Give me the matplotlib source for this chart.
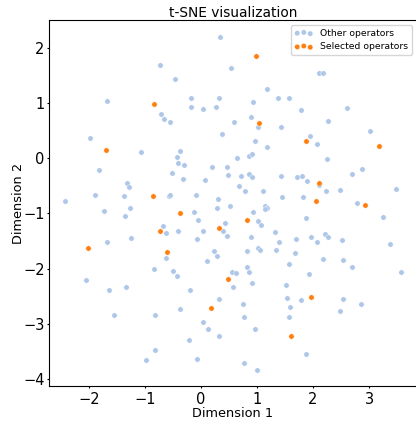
import numpy as np
import matplotlib
matplotlib.use("Agg")
import matplotlib.pyplot as plt

# t-SNE embedding, operators not chosen
other_x = [-1.98, -1.67, -0.73, -0.47, 0.345, -0.71, -0.66, -0.55, -0.17, -0.18,
           0.04, 0.26, 0.32, 0.38, 0.54, 2.11, 2.17, 1.17, 0.92, 1.37,
           1.58, 1.79, 2.61, 0.59, 0.89, 1.01, 1.43, 2.27, 3.02, 1.95,
           0.97,
           -1.08, -0.375, -0.43, -0.41, -0.31, -1.83, -0.52, -0.32, 0.19,
           0.46, 0.49, 0.08, -1.32, -1.29, -2.42, -1.89, -1.38, -0.58, -0.55,
           -0.095, 0.30, 0.29, 0.52, -1.73, -1.27, -1.36, -0.13, -0.06, -0.68,
           -0.63, -0.405, 0.03, 0.43, 0.39, 0.47, -0.08, -1.67, -1.25, -0.625,
           0.23, 0.28, 0.11,
           2.08, 1.17, 0.64, 0.85, 0.91, 2.255, 0.71, 0.86, 0.91, 1.42,
           1.72, 1.81, 1.89, 2.11, 2.70, 2.875, 3.49, 0.67, 0.79, 1.11,
           2.23, 2.49, 1.44, 1.82, 2.78, 1.14, 1.18, 1.14, 0.92, 3.25,
           1.875, 1.02, 1.08, 1.32, 2.21, 2.26, 1.96, 0.89, 1.70, 1.39,
           2.08, 2.51, 3.38, 1.02, 1.06, 0.82, 1.34, 1.68, 2.17, 2.54,
           1.58,
           -2.05, -0.84, -0.505, -0.43, -1.64, -1.34, -0.20, 0.32, -0.375, -1.55,
           -0.82, 0.03, 0.12, 0.33, -0.22, -0.83, -0.99, -0.08,
           0.82, 0.56, 0.63, 0.86, 2.70, 3.57, 1.93, 0.58, 0.905, 1.51,
           1.53, 1.78, 1.59, 2.54, 2.86, 2.48, 0.75, 0.76, 1.58, 0.96,
           1.87, 0.77, 1.00]
other_y = [0.36, 1.03, 1.69, 1.44, 2.20, 0.80, 0.71, 0.65, 1.09, 0.93,
           0.89, 0.93, 1.09, 0.44, 1.64, 1.54, 1.54, 1.25, 1.02, 1.10,
           1.09, 0.88, 0.92, 0.65, 0.75, 0.57, 0.56, 0.67, 0.50, 0.40,
           0.31,
           0.11, 0.13, 0.03, -0.08, -0.13, -0.21, -0.27, -0.375, -0.16,
           -0.15, -0.31, -0.39, -0.44, -0.52, -0.77, -0.67, -0.68, -0.68, -0.67,
           -0.66, -0.73, -0.90, -0.86, -0.96, -0.90, -1.04, -0.97, -1.12, -1.23,
           -1.35, -1.31, -1.31, -1.17, -1.31, -1.41, -1.46, -1.51, -1.45, -1.80,
           -1.69, -1.78, -1.86,
           0.26, 0.20, 0.01, 0.05, 0.08, -0.01, -0.33, -0.29, -0.34, -0.32,
           -0.345, -0.33, -0.41, -0.48, -0.29, -0.19, -0.55, -0.50, -0.59, -0.60,
           -0.60, -0.575, -0.71, -0.70, -0.81, -0.87, -0.91, -0.92, -0.98, -1.06,
           -1.08, -1.14, -1.21, -1.34, -1.37, -1.43, -1.42, -1.43, -1.47, -1.52,
           -1.52, -1.49, -1.55, -1.63, -1.66, -1.69, -1.66, -1.71, -1.83, -1.85,
           -1.92,
           -2.20, -2.01, -2.05, -2.13, -2.39, -2.33, -2.38, -2.56, -2.73, -2.85,
           -2.85, -2.97, -3.10, -3.22, -3.29, -3.48, -3.66, -3.64,
           -1.97, -2.06, -2.08, -2.06, -1.98, -2.06, -2.10, -2.33, -2.26, -2.29,
           -2.54, -2.57, -2.69, -2.56, -2.64, -2.76, -2.65, -2.87, -2.87, -3.10,
           -3.54, -3.72, -3.83]

# operators that were selected
sel_x = [-0.84, 0.98, 1.03, -1.70, -0.85, -0.375, -0.73, 0.32, -2.02, -0.61,
         1.875, 3.17, 2.11, 2.05, 2.92, 0.82, 0.48, 0.17, 1.97, 1.61]
sel_y = [0.98, 1.85, 0.64, 0.15, -0.68, -1.00, -1.32, -1.27, -1.62, -1.70,
         0.31, 0.22, -0.44, -0.77, -0.85, -1.11, -2.19, -2.72, -2.51, -3.22]

fig = plt.figure(figsize=(4.16, 4.21), dpi=100)
ax = fig.add_axes([0.1178, 0.0831, 0.8846, 0.8687])

ax.scatter(other_x, other_y, s=15, color="#aec7e8", edgecolors="white",
           linewidths=0.3, label="Other operators")
ax.scatter(sel_x, sel_y, s=15, color="#ff7f0e", edgecolors="white",
           linewidths=0.3, label="Selected operators")

ax.set_xlim(-2.714, 3.857)
ax.set_ylim(-4.129, 2.502)
ax.set_xticks([-2, -1, 0, 1, 2, 3])
ax.set_yticks([-4, -3, -2, -1, 0, 1, 2])
ax.tick_params(axis="both", labelsize=10.5, length=1.7)
ax.tick_params(axis="x", pad=2.5)
ax.tick_params(axis="y", pad=1.5)

ax.set_title("t-SNE visualization", fontsize=9.9, pad=2)
ax.set_xlabel("Dimension 1", fontsize=9.3, labelpad=0)
ax.set_ylabel("Dimension 2", fontsize=9.3, labelpad=-1.5)

ax.legend(loc="upper right", fontsize=6.7, scatterpoints=3)

plt.savefig("out.png", dpi=100)
